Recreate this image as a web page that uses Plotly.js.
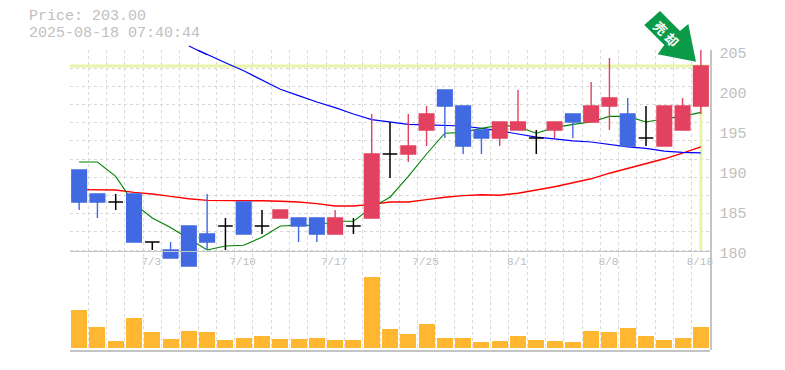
<!DOCTYPE html>
<html>
<head>
<meta charset="utf-8">
<script src="https://cdn.plot.ly/plotly-3.0.1.min.js"></script>
<style>html,body{margin:0;padding:0;background:#fff}#c{width:785px;height:370px}</style>
</head>
<body>
<div id="c"></div>
<script>
const dates = ['6/27','6/30','7/1','7/2','7/3','7/4','7/7','7/8','7/9','7/10','7/11','7/14','7/15','7/16','7/17','7/18','7/22','7/23','7/24','7/25','7/28','7/29','7/30','7/31','8/1','8/4','8/5','8/6','8/7','8/8','8/12','8/13','8/14','8/15','8/18'];
const shownDates = ['7/3','7/10','7/17','7/25','8/1','8/8','8/18'];
const open  = [190,187,186,187,181,180,183,182,183,186,183,184,184,184,182,183,184,192,192,195,200,198,195,194,195,194,195,197,196,198,197,194,193,195,198];
const close = [186,186,186,181,181,179,178,181,183,182,183,185,183,182,184,183,192,192,193,197,198,193,194,196,196,194,196,196,198,199,193,194,198,198,203];
const high  = [190,187,187,187,181,181,183,187,184,186,185,185,184,184,185,184,197,196,197,198,200,198,195,196,200,195,196,197,201,204,199,198,198,199,205];
const low   = [185,184,185,181,180,179,178,180,180,182,182,184,181,181,182,182,184,189,191,193,194,192,192,193,195,192,194,194,196,195,193,193,193,195,197];
const volume = [38,21,7,30,16,9,17,16,8,10,12,9,9,10,8,8,71,19,14,24,10,10,6,7,12,8,7,6,17,16,20,12,8,10,21];
const maShort = [191,191,189.2,185.8,184,182.8,181.4,180,180.5,180.6,181.6,183,183.1,183.1,183.6,183.6,185.3,186.6,189.2,192,194.6,194.7,195.2,195.6,195.4,194.6,195.3,195.7,196,196.7,196.7,196,196.4,196.7,197.2];
const maMid = [null,null,null,null,null,null,205.5,204.4,203.4,202.4,201.3,200.1,199.3,198.5,197.8,197,196.3,196,195.7,195.65,195.6,195.5,195.2,194.9,194.5,194.1,193.9,193.65,193.5,193.2,192.9,192.7,192.35,192.2,192.15];
const maLong = [187.55,187.5,187.5,187.2,187,186.7,186.4,186.2,186.2,186.15,186.15,186.1,186,185.8,185.5,185.5,185.7,186,186,186.3,186.6,186.8,186.9,186.85,187.1,187.5,187.9,188.4,188.9,189.6,190.2,190.8,191.4,192.1,192.9];
const currentPrice = 203;
const priceTicks = [180,185,190,195,200,205];
const infoLines = ['Price: 203.00','2025-08-18 07:40:44'];
const badgeChars = ['売','却'];

const xs = dates.map((_, i) => i);
const textGrey = '#c0c0c0', lineGrey = '#c4c4c4', gridGrey = '#d9d9d9';
const mono = '"Liberation Mono", monospace';
const L = 70, R = 710, T = 44, gridTop = 50, B = 350, axisY = 250.5;
const px = v => (v - L) / (R - L), py = v => (B - v) / (B - T);
const split = py(axisY);
const priceRange = [205-(B-gridTop)/8,205];
const tallRange = [priceRange[0],205+(gridTop-T)/8];

const pick = test => xs.filter(i => test(open[i], close[i]));
function candles(idx, color, w) {
  return {type:'candlestick', xaxis:'x', yaxis:'y3',
    x: idx, open: idx.map(i=>open[i]), high: idx.map(i=>high[i]), low: idx.map(i=>low[i]), close: idx.map(i=>close[i]),
    increasing:{line:{color,width:w}, fillcolor:color}, decreasing:{line:{color,width:w}, fillcolor:color},
    whiskerwidth:0, showlegend:false, hoverinfo:'skip'};
}
const lineTrace = (y, color, width) => ({type:'scatter', mode:'lines', x:xs, y, line:{color,width}, xaxis:'x', yaxis:'y', hoverinfo:'skip', showlegend:false});

const traces = [
  {type:'scatter', mode:'lines', x:[xs[0]-0.5, xs[34]+0.5], y:[currentPrice,currentPrice], line:{color:'#e6f5a8',width:3}, hoverinfo:'skip', showlegend:false},
  {type:'scatter', mode:'lines', x:[xs[34],xs[34]], y:[180,currentPrice], line:{color:'#e6f5a8',width:3}, hoverinfo:'skip', showlegend:false},
  lineTrace(maLong,'#ff0000',1.4),
  lineTrace(maMid,'#0000ff',1.2),
  lineTrace(maShort,'#008000',1.1),
  candles(pick((o,c)=>c>o),'#e2415f',1.4),
  candles(pick((o,c)=>c<o),'#4169e1',1.4),
  candles(pick((o,c)=>c===o),'#000000',1.5),
  {type:'scatter', mode:'lines', x:xs.slice(6,8), y:maMid.slice(6,8), line:{color:'#0000ff',width:1.2}, xaxis:'x3', yaxis:'y4', hoverinfo:'skip', showlegend:false},
  {type:'bar', x:xs, y:volume, xaxis:'x2', yaxis:'y2', width:0.876, marker:{color:'#ffb732',line:{width:0}}, hoverinfo:'skip', showlegend:false}
];

const layout = {
  width:785, height:370, margin:{l:L,r:785-R,t:T,b:370-B}, paper_bgcolor:'#fff', plot_bgcolor:'rgba(0,0,0,0)', showlegend:false,
  boxgap:0.2, boxgroupgap:0, boxmode:'overlay', bargap:0,
  xaxis:{type:'linear', range:[-0.5,34.5], anchor:'free', position:split, domain:[0,1],
    rangeslider:{visible:false}, tickmode:'array', tickvals:shownDates.map(d=>dates.indexOf(d)), ticktext:shownDates,
    tickfont:{family:mono,size:11,color:textGrey}, ticks:'', ticklabelshift:-1, showgrid:false, zeroline:false,
    showline:true, linecolor:lineGrey, linewidth:1.5,
    minor:{tickmode:'array', tickvals:[...xs.map(i=>i-0.5), 34.5], showgrid:true, gridcolor:gridGrey, griddash:'3px,3px', gridwidth:1, ticks:''}},
  yaxis:{range:priceRange, domain:[0,py(gridTop)], side:'right', anchor:'x', tickmode:'array', tickvals:priceTicks, ticktext:priceTicks.map(String),
    tickfont:{family:mono,size:15,color:textGrey}, ticks:'', ticklabelstandoff:5, ticklabelshift:3, showgrid:false, zeroline:false,
    showline:true, linecolor:lineGrey, linewidth:1.5,
    minor:{tickmode:'array', tickvals:Array.from({length:12},(_,k)=>205-k*25/11), showgrid:true, gridcolor:gridGrey, griddash:'3px,3px', gridwidth:1, ticks:''}},
  yaxis3:{range:priceRange, overlaying:'y', side:'right', anchor:'x', showticklabels:false, ticks:'', showgrid:false, zeroline:false, showline:false},
  xaxis3:{type:'linear', range:[-0.5,34.5], anchor:'y4', domain:[0,1], visible:false},
  yaxis4:{range:tallRange, domain:[0,1], anchor:'x3', visible:false},
  xaxis2:{type:'linear', range:[-0.5,34.5], anchor:'y2', domain:[0,1], showticklabels:false, ticks:'', showgrid:false, zeroline:false, showline:true, linecolor:lineGrey, linewidth:1.5},
  yaxis2:{range:[-2,97.5], domain:[0,split], anchor:'x2', showticklabels:false, ticks:'', showgrid:false, zeroline:false, showline:false},
  shapes:[{type:'path', xref:'paper', yref:'paper', fillcolor:'#0a9a48', line:{width:0}, layer:'above',
    path:'M '+[[660,11],[644.3,25],[664.3,45],[657.7,54.3],[696,61.7],[688.3,24],[680,31]].map(p=>px(p[0]).toFixed(4)+','+py(p[1]).toFixed(4)).join(' L ')+' Z'}],
  annotations:[
    {xref:'paper',yref:'paper',x:px(28),y:py(16.5),xanchor:'left',yanchor:'middle',showarrow:false,borderpad:0,text:infoLines[0],font:{family:mono,size:15,color:textGrey}},
    {xref:'paper',yref:'paper',x:px(28),y:py(34),xanchor:'left',yanchor:'middle',showarrow:false,borderpad:0,text:infoLines[1],font:{family:mono,size:15,color:textGrey}},
    {xref:'paper',yref:'paper',x:px(660),y:py(28),xanchor:'center',yanchor:'middle',showarrow:false,text:'<b>'+badgeChars[0]+'</b>',textangle:45,font:{family:'"Noto Sans CJK JP"',size:13,color:'#fff'}},
    {xref:'paper',yref:'paper',x:px(672),y:py(39),xanchor:'center',yanchor:'middle',showarrow:false,text:'<b>'+badgeChars[1]+'</b>',textangle:45,font:{family:'"Noto Sans CJK JP"',size:13,color:'#fff'}}
  ]
};
Plotly.newPlot('c', traces, layout, {displayModeBar:false, staticPlot:true});
</script>
</body>
</html>
